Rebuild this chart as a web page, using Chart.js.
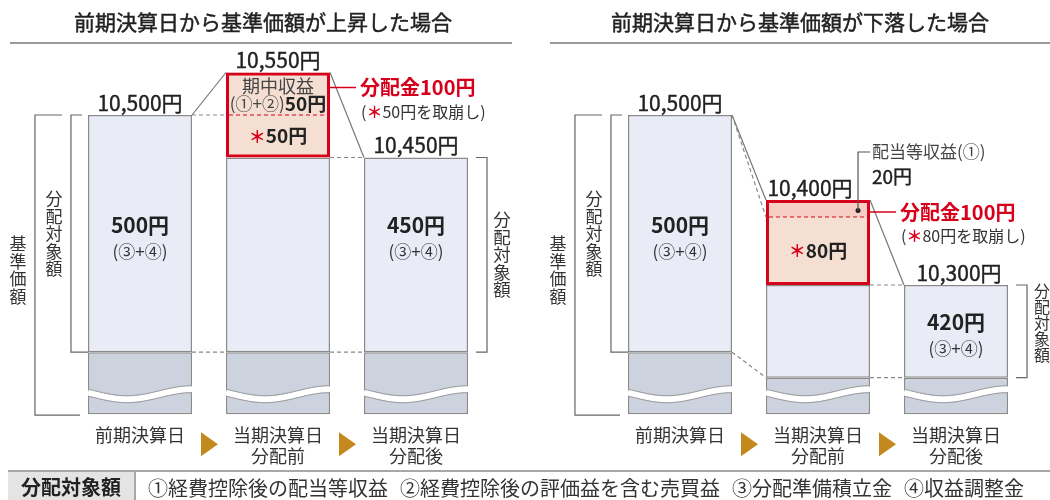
<!DOCTYPE html>
<html lang="ja">
<head>
<meta charset="utf-8">
<script src="https://cdn.jsdelivr.net/npm/chart.js@4.4.1/dist/chart.umd.min.js"></script>
<style>
body { margin: 0; background: #fff; }
#wrap { position: relative; width: 1050px; height: 500px; overflow: hidden; font-family: "Noto Sans CJK JP", "Noto Sans", sans-serif; }
canvas { position: absolute; top: 0; }
#legend { position: absolute; left: 8px; top: 470px; width: 1042px; height: 30px; border-top: 2px solid #a8a8a8; display: flex; align-items: center; }
#legend .head { width: 126px; height: 100%; background: #e4e4e4; border-right: 2px solid #a8a8a8; font-weight: bold; font-size: 20px; text-align: center; line-height: 30px; color: #222; }
#legend .item { font-size: 20px; color: #333; white-space: nowrap; margin-left: 12px; }
#legend .item:first-of-type { margin-left: 16px; }
</style>
</head>
<body>
<div id="wrap">
  <canvas id="up" width="525" height="500" style="left:0"></canvas>
  <canvas id="down" width="525" height="500" style="left:525px"></canvas>
  <div id="legend"><div class="head">分配対象額</div></div>
</div>
<script>
const FONT = '"Noto Sans CJK JP", "Noto Sans", sans-serif';

// カテゴリ
const labels = ['前期決算日', ['当期決算日', '分配前'], ['当期決算日', '分配後']];

// 基準価額が上昇した場合
const navUp = [10500, 10550, 10450];
const distAmtUp = [500, 0, 450];     // 分配対象額
const incomeUp = 50;                 // 期中収益(①+②)
const drawdownUp = 50;               // 取崩し
// 基準価額が下落した場合
const navDown = [10500, 10400, 10300];
const distAmtDown = [500, 0, 420];
const incomeDown = 20;               // 配当等収益(①)
const drawdownDown = 80;
const dividend = 100;                // 分配金

// 下の部分は省略して描いてある(縮尺なし)
const baseTopUp = [10221, 10221, 10221];
const baseTopDown = [10221, 10191, 10191];
const barBottom = 10148;

const legendItems = ['①経費控除後の配当等収益', '②経費控除後の評価益を含む売買益', '③分配準備積立金', '④収益調整金'];

const RED = '#d7001b';
const GRAY = '#8a8a8a';

function text(ctx, s, x, y, size, o) {
    o = o || {};
    ctx.font = (o.w || 'normal') + ' ' + size + 'px ' + FONT;
    ctx.fillStyle = o.c || '#222';
    ctx.textAlign = o.a || 'center';
    ctx.textBaseline = 'middle';
    ctx.fillText(s, x, y);
    if (o.stroke) {
        // 少し太く(medium くらい)
        ctx.strokeStyle = o.c || '#222';
        ctx.lineWidth = o.stroke;
        ctx.strokeText(s, x, y);
    }
}

// 文字の大きさや色が混ざった一行
function runs(ctx, parts, x, y, align) {
    let total = 0;
    parts.forEach(function (pt) {
        ctx.font = pt[2] + ' ' + pt[1] + 'px ' + FONT;
        pt.width = ctx.measureText(pt[0]).width;
        total += pt.width;
    });
    let cx = align == 'left' ? x : x - total / 2;
    parts.forEach(function (pt) {
        text(ctx, pt[0], cx, y, pt[1], {w: pt[2], c: pt[3], a: 'left'});
        cx += pt.width;
    });
}

function vtext(ctx, s, x, yc, step, size) {
    const chars = [...s];
    const y0 = yc - (chars.length - 1) * step / 2;
    chars.forEach(function (ch, i) { text(ctx, ch, x, y0 + i * step, size, {c: '#333'}); });
}

function line(ctx, pts, color, width, dash) {
    ctx.beginPath();
    ctx.strokeStyle = color;
    ctx.lineWidth = width;
    ctx.setLineDash(dash || []);
    ctx.moveTo(pts[0][0], pts[0][1]);
    for (let i = 1; i < pts.length; i++) ctx.lineTo(pts[i][0], pts[i][1]);
    ctx.stroke();
    ctx.setLineDash([]);
}

// 省略を表す波線
function wave(ctx, l, r, yb) {
    const pts = [];
    for (let i = 0; i <= 40; i++) {
        const t = i / 40;
        pts.push([l + (r - l) * t, yb - 20 + 5 * Math.sin(Math.PI * (1.6 * t - 0.1))]);
    }
    ctx.save();
    ctx.beginPath();
    ctx.rect(l - 1, yb - 45, r - l + 2, 45);
    ctx.clip();
    line(ctx, pts, '#fff', 6);
    line(ctx, pts.map(p => [p[0], p[1] - 3.5]), '#9a9a9a', 1);
    line(ctx, pts.map(p => [p[0], p[1] + 3.5]), '#9a9a9a', 1);
    ctx.restore();
}

function makeDeco(p) {
    return {
        id: 'deco',
        afterDatasetsDraw(chart) {
            const ctx = chart.ctx;
            const Y = v => chart.scales.y.getPixelForValue(v);
            const bars = chart.getDatasetMeta(1).data.map(b => ({l: b.x - b.width / 2, r: b.x + b.width / 2, x: b.x}));
            const nav = p.nav, base = p.baseTop;
            const pre = nav[1], post = nav[1] - dividend, cut = pre - p.income;
            const b0 = bars[0], b1 = bars[1], b2 = bars[2];
            ctx.save();

            // タイトル
            text(ctx, p.title, p.titleX, 22, 21, {stroke: 0.45});
            line(ctx, [[p.line[0], 43], [p.line[1], 43]], '#777', 1.5);

            // 波線
            bars.forEach(b => wave(ctx, b.l, b.r, Y(barBottom)));

            // 赤枠の中の点線
            line(ctx, [[b1.l + 3, Y(cut)], [b1.r - 3, Y(cut)]], RED, 1.2, [4, 3]);

            // つなぎの線
            line(ctx, [[b0.r, Y(nav[0])], [b1.l, Y(pre)]], '#777', 1.2);
            line(ctx, [[b0.r, Y(nav[0])], [b1.l, Y(cut)]], '#888', 1.2, [4, 3]);
            line(ctx, [[b0.r, Y(base[0])], [b1.l, Y(base[1])]], '#888', 1.2, [4, 3]);
            line(ctx, [[b1.r, Y(base[1])], [b2.l, Y(base[2])]], '#888', 1.2, [4, 3]);
            line(ctx, [[b1.r, Y(post)], [b2.l, Y(nav[2])]], '#888', 1.2, [4, 3]);
            line(ctx, [[b1.r, Y(pre)], [b2.l, Y(nav[2])]], '#777', 1.2);

            // かっこ
            const bc = '#666';
            line(ctx, [[b0.l - 26, Y(nav[0])], [b0.l - 53, Y(nav[0])], [b0.l - 53, Y(barBottom) + 1], [b0.l - 8, Y(barBottom) + 1]], bc, 1.2);
            line(ctx, [[b0.l - 6, Y(nav[0])], [b0.l - 17, Y(nav[0])], [b0.l - 17, Y(base[0])], [b0.l, Y(base[0])]], bc, 1.2);
            line(ctx, [[b2.r + 8, Y(nav[2])], [b2.r + 19, Y(nav[2])], [b2.r + 19, Y(base[2])], [b2.r + 8, Y(base[2])]], bc, 1.2);
            vtext(ctx, '基準価額', b0.l - 70, 270, 17.5, 17);
            vtext(ctx, '分配対象額', b0.l - 34, (Y(nav[0]) + Y(base[0])) / 2, 17.5, 17);
            vtext(ctx, '分配対象額', b2.r + 34, (Y(nav[2]) + Y(base[2])) / 2 + p.rightTextDy, p.rightStep, p.rightStep);

            // 基準価額のラベル
            nav.forEach((v, i) => text(ctx, v.toLocaleString('ja-JP') + '円', bars[i].x + p.labelDx[i], Y(v) - 12, 21, {stroke: 0.4}));

            // 分配対象額
            [0, 2].forEach(function (i) {
                text(ctx, p.dist[i] + '円', bars[i].x, p.innerY[i], 21, {w: 'bold'});
                text(ctx, '(③+④)', bars[i].x, p.innerY[i] + 27, 17, {c: '#333'});
            });

            // 赤枠の中
            const mid = (Y(post) + Y(cut)) / 2;
            runs(ctx, [['＊', 17, 'bold', RED], [p.drawdown + '円', 19, 'bold', '#222']], b1.x, mid);
            if (p.kind == 'up') {
                text(ctx, '期中収益', b1.x, Y(pre) + 14, 18, {c: '#444'});
                runs(ctx, [['(①+②)', 17, 'normal', '#444'], [p.income + '円', 19, 'bold', '#222']], b1.x, Y(pre) + 31);
            } else {
                const dx = b1.r - 12, dy = (Y(pre) + Y(cut)) / 2 + 2;
                ctx.beginPath();
                ctx.fillStyle = '#222';
                ctx.arc(dx, dy, 2.5, 0, Math.PI * 2);
                ctx.fill();
                line(ctx, [[dx, dy], [dx, Y(pre) - 48], [dx + 12, Y(pre) - 48]], '#555', 1.2);
                text(ctx, '配当等収益(①)', dx + 14, Y(pre) - 48, 17, {a: 'left', c: '#444'});
                text(ctx, p.income + '円', dx + 14, Y(pre) - 23, 19, {a: 'left', stroke: 0.4});
            }

            // 分配金
            const cy = Y(pre) + p.calloutDy;
            line(ctx, [[b1.r, cy], [b1.r + 26, cy]], RED, 1.5);
            text(ctx, '分配金' + dividend + '円', b1.r + 30, cy, 20, {a: 'left', w: 'bold', c: RED});
            runs(ctx, [['(', 16, 'normal', '#333'], ['＊', 16, 'bold', RED], [p.drawdown + '円を取崩し)', 16, 'normal', '#333']], b1.r + 31, cy + 24, 'left');

            // カテゴリ名と矢印
            const yl = Y(barBottom) + 21;
            labels.forEach(function (lab, i) {
                const rows = Array.isArray(lab) ? lab : [lab];
                rows.forEach((s, j) => text(ctx, s, bars[i].x, yl + j * 21, 18, {c: '#333'}));
            });
            [[b0, b1], [b1, b2]].forEach(function (pair) {
                const cx = (pair[0].r + pair[1].l) / 2;
                ctx.beginPath();
                ctx.fillStyle = '#c4891c';
                ctx.moveTo(cx - 8, yl - 3);
                ctx.lineTo(cx - 8, yl + 21);
                ctx.lineTo(cx + 9, yl + 9);
                ctx.closePath();
                ctx.fill();
            });
            ctx.restore();
        }
    };
}

function datasets(p) {
    const nav = p.nav, base = p.baseTop;
    const pre = nav[1], post = nav[1] - dividend, cut = pre - p.income;
    const common = {grouped: false, barPercentage: 0.754, categoryPercentage: 1, borderSkipped: false};
    // order: 大きいほど先に(下に)描かれる
    return [
        {data: base.map(b => [barBottom, b]), backgroundColor: '#ccd2de', borderColor: GRAY, borderWidth: 1.5, order: 5},
        {data: [[base[0], nav[0]], [base[1], post], [base[2], nav[2]]], backgroundColor: '#e9ecf6', borderColor: GRAY, borderWidth: 1.5, order: 4},
        {data: [null, [post, cut], null], backgroundColor: '#f4dfd2', borderWidth: 0, order: 3},
        {data: [null, [cut, pre], null], backgroundColor: p.incomeColor, borderWidth: 0, order: 2},
        {data: [null, [post, pre], null], backgroundColor: 'rgba(0,0,0,0)', borderColor: RED, borderWidth: 3, order: 1}
    ].map(d => Object.assign({}, common, d));
}

function makeChart(id, p) {
    new Chart(document.getElementById(id), {
        type: 'bar',
        data: {labels: labels, datasets: datasets(p)},
        options: {
            responsive: false,
            animation: false,
            layout: {padding: p.pad},
            scales: {
                x: {display: false},
                y: {display: false, min: 10100, max: 10620}
            },
            plugins: {legend: {display: false}, tooltip: {enabled: false}}
        },
        plugins: [makeDeco(p)]
    });
}

makeChart('up', {
    kind: 'up', title: '前期決算日から基準価額が上昇した場合', titleX: 263, line: [10, 512],
    nav: navUp, dist: distAmtUp, income: incomeUp, drawdown: drawdownUp, baseTop: baseTopUp,
    innerY: [225, 0, 225], labelDx: [0, 0, 0], incomeColor: '#f4dfd2', calloutDy: 15,
    rightTextDy: 0, rightStep: 17.5,
    pad: {left: 71, right: 40, top: 13, bottom: 45}
});
makeChart('down', {
    kind: 'down', title: '前期決算日から基準価額が下落した場合', titleX: 275, line: [25, 525],
    nav: navDown, dist: distAmtDown, income: incomeDown, drawdown: drawdownDown, baseTop: baseTopDown,
    innerY: [225, 0, 322], labelDx: [0, -8, 3], incomeColor: '#f7cec4', calloutDy: 12,
    rightTextDy: -8, rightStep: 16,
    pad: {left: 86, right: 25, top: 13, bottom: 45}
});

const legend = document.getElementById('legend');
legendItems.forEach(function (s) {
    const el = document.createElement('div');
    el.className = 'item';
    el.textContent = s;
    legend.appendChild(el);
});
</script>
</body>
</html>
